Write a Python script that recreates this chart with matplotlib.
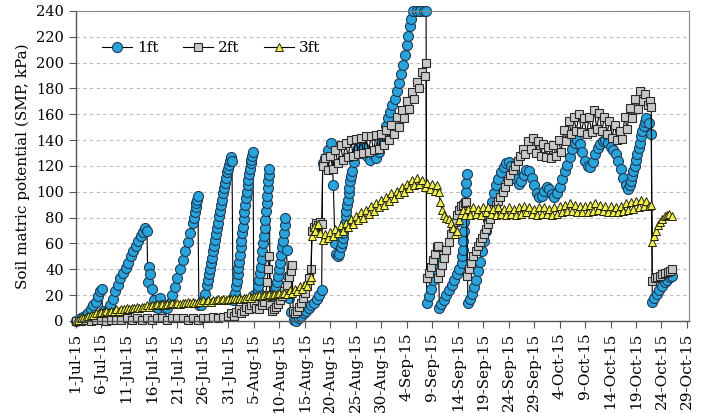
import matplotlib
matplotlib.use("Agg")
import matplotlib.pyplot as plt
import pandas as pd

plt.rcParams["font.family"] = ["DejaVu Serif"]

# readings as (days since 1-Jul-15, SMP kPa)
ft1_points = [
    (0, 0), (0.5, 1), (1, 2), (1.5, 3), (2, 5), (2.5, 6), (3, 9), (3.5, 12), (4, 15), (4.4, 19), (4.8, 23), (5.1, 25),
    (5.3, 8), (5.8, 6), (6.3, 8), (6.8, 12), (7.3, 17), (7.8, 23), (8.3, 28), (8.8, 33), (9.3, 37), (9.8, 41),
    (10.3, 45), (10.8, 50), (11.3, 54), (11.8, 58), (12.3, 62), (12.8, 66), (13.3, 69), (13.7, 72), (14.0, 70),
    (14.2, 30), (14.4, 42), (14.7, 36), (15.0, 25), (15.3, 16), (15.7, 11), (16.1, 10), (16.6, 18), (17.0, 12),
    (17.5, 10), (18.0, 10), (18.5, 14), (19.0, 20), (19.5, 26), (20.0, 33), (20.5, 40), (21.0, 47), (21.5, 54),
    (22.0, 61), (22.5, 68), (23.0, 76), (23.2, 80), (23.4, 84), (23.55, 88), (23.7, 91), (23.85, 94), (24.0, 97),
    (24.2, 12), (24.6, 12), (25.0, 16), (25.4, 21), (25.8, 28), (26.0, 32), (26.2, 36), (26.4, 40), (26.6, 45),
    (26.8, 49), (27.0, 54), (27.2, 58), (27.4, 63), (27.6, 67), (27.8, 72), (28.0, 76), (28.2, 81), (28.4, 85),
    (28.6, 90), (28.8, 94), (29.0, 99), (29.2, 103), (29.4, 107), (29.6, 111), (29.8, 115), (30.0, 118),
    (30.2, 121), (30.35, 124), (30.5, 127), (30.7, 124),
    (30.9, 16), (31.1, 19), (31.3, 22), (31.5, 27), (31.65, 31), (31.8, 36), (31.95, 41), (32.1, 46), (32.25, 51),
    (32.4, 57), (32.55, 62), (32.7, 68), (32.85, 73), (33.0, 79), (33.15, 84), (33.3, 90), (33.45, 95), (33.6, 100),
    (33.75, 105), (33.9, 109), (34.05, 114), (34.2, 118), (34.35, 122), (34.5, 125), (34.65, 128), (34.8, 131),
    (35.0, 20), (35.3, 15), (35.6, 19), (35.75, 23), (35.9, 27), (36.05, 32), (36.2, 37), (36.35, 42), (36.5, 48),
    (36.65, 54), (36.8, 60), (36.95, 66), (37.1, 72), (37.25, 78), (37.4, 85), (37.5, 91), (37.6, 97), (37.7, 103),
    (37.8, 108), (37.9, 113), (38.0, 118),
    (38.2, 12), (38.6, 14), (39.0, 19), (39.2, 22), (39.4, 26), (39.6, 30), (39.8, 35), (40.0, 40), (40.2, 45),
    (40.4, 51), (40.6, 57), (40.75, 62), (40.9, 68), (41.05, 74), (41.2, 80),
    (41.4, 55), (41.6, 35), (41.9, 18), (42.3, 7), (42.8, 1), (43.3, 0), (43.8, 2), (44.3, 4), (44.8, 6), (45.3, 8),
    (45.8, 10), (46.3, 12), (46.8, 14), (47.3, 17), (47.8, 20), (48.3, 24),
    (48.5, 122), (49.0, 126), (49.6, 132), (50.2, 138), (50.6, 105), (50.9, 60), (51.2, 52), (51.5, 50), (51.8, 52),
    (52.1, 57), (52.25, 60), (52.4, 64), (52.55, 68), (52.7, 72), (52.85, 76), (53.0, 81), (53.15, 85), (53.3, 90),
    (53.45, 94), (53.6, 99), (53.75, 103), (53.9, 108), (54.05, 112), (54.2, 116), (54.6, 123),
    (55.0, 129), (55.5, 134), (56.0, 138), (56.6, 134), (57.2, 128), (57.8, 125), (58.4, 129), (59.0, 126),
    (59.5, 131), (60.0, 137), (60.5, 144), (61.0, 151), (61.4, 157), (61.8, 162), (62.2, 167), (62.6, 172),
    (63.0, 178), (63.4, 184), (63.8, 191), (64.2, 198), (64.6, 206), (65.0, 214), (65.3, 221), (65.6, 228),
    (65.9, 234), (66.3, 240), (67.0, 240), (67.7, 240), (68.3, 240), (68.8, 240),
    (68.9, 14), (69.3, 19), (69.7, 25), (70.1, 32), (70.5, 40), (70.9, 49), (71.2, 57),
    (71.4, 10), (71.8, 13), (72.3, 16), (72.8, 20), (73.3, 24), (73.8, 28), (74.3, 32), (74.8, 36), (75.3, 40),
    (75.8, 45), (75.9, 50), (76.0, 55), (76.1, 62), (76.2, 70), (76.3, 77), (76.4, 85), (76.5, 92), (76.6, 100),
    (76.7, 107), (76.8, 114),
    (77.0, 14), (77.4, 17), (77.8, 21), (78.2, 26), (78.6, 32), (79.0, 39), (79.4, 46), (79.8, 54), (80.2, 62),
    (80.6, 70), (81.0, 78), (81.4, 85), (81.8, 92), (82.2, 99), (82.6, 105), (83.0, 110), (83.5, 115), (84.0, 119),
    (84.5, 122), (85.0, 123), (85.5, 120), (86.0, 116), (86.5, 110), (87.0, 106), (87.5, 108), (88.0, 113),
    (88.5, 117), (89.0, 116), (89.5, 111), (90.0, 105), (90.5, 99), (91.0, 96), (91.5, 97), (92.0, 101),
    (92.5, 104), (93.0, 102), (93.5, 98), (94.0, 96), (94.5, 99), (95.0, 104), (95.5, 110), (96.0, 116),
    (96.5, 121), (97.0, 127), (97.5, 133), (98.0, 138), (98.5, 140), (99.0, 137), (99.5, 131), (100.0, 124),
    (100.5, 120), (101.0, 119), (101.5, 123), (102.0, 129), (102.5, 134), (103.0, 137), (103.5, 139), (104.0, 140),
    (104.5, 138), (105.0, 135), (105.5, 132), (106.0, 129), (106.5, 124), (107.0, 118), (107.5, 111), (108.0, 105),
    (108.5, 102), (108.75, 105), (109.0, 108), (109.25, 112), (109.5, 116), (109.75, 120), (110.0, 125),
    (110.25, 129), (110.5, 134), (110.75, 138), (111.0, 143), (111.25, 147), (111.5, 151), (111.75, 154),
    (112.0, 157), (112.5, 153), (113.0, 145),
    (113.2, 15), (113.6, 18), (114.1, 21), (114.6, 24), (115.1, 27), (115.6, 30), (116.1, 32), (116.6, 34), (117.0, 35),
]

ft2_points = [
    (0, 0), (1, 0), (2, 1), (3, 0), (4, 1), (5, 1), (6, 0), (7, 1), (8, 1), (9, 1), (10, 2), (11, 1), (12, 2),
    (13, 1), (14, 2), (15, 1), (16, 2), (17, 2), (18, 1), (19, 2), (20, 2), (21, 2), (22, 1), (23, 2), (24, 1),
    (25, 2), (26, 2), (27, 3), (28, 2), (29, 3), (30, 4), (30.5, 6), (31, 4), (31.5, 7), (32, 9), (32.5, 6),
    (33, 8), (33.5, 11), (34, 9), (34.5, 12), (35, 14), (35.5, 10), (36, 9), (36.5, 12), (37, 15), (37.3, 20),
    (37.6, 30), (37.8, 40), (38.0, 50), (38.2, 12), (38.6, 8), (39.0, 9), (39.4, 11), (39.8, 13), (40.2, 16),
    (40.6, 19), (41.0, 23), (41.4, 28), (41.8, 34), (42.2, 39), (42.5, 43), (42.7, 8), (43.1, 6), (43.5, 8),
    (43.9, 11), (44.3, 14), (44.7, 18), (45.1, 22), (45.5, 27), (45.9, 33), (46.2, 40),
    (46.4, 70), (46.8, 73), (47.2, 76), (47.6, 74), (48.0, 77), (48.3, 75),
    (48.5, 120), (49, 126), (49.5, 117), (50, 128), (50.5, 118), (51, 132), (51.5, 122), (52, 136), (52.5, 125),
    (53, 138), (53.5, 127), (54, 140), (54.5, 128), (55, 141), (55.5, 129), (56, 142), (56.5, 130), (57, 143),
    (57.5, 131), (58, 143), (58.5, 132), (59, 144), (59.5, 133), (60, 145), (60.5, 136), (61, 148), (61.5, 140),
    (62, 152), (62.5, 145), (63, 158), (63.5, 150), (64, 163), (64.5, 157), (65, 170), (65.5, 164), (66, 177),
    (66.5, 172), (67, 185), (67.5, 180), (68, 193), (68.5, 190), (68.8, 200),
    (68.9, 33), (69.3, 37), (69.7, 42), (70.1, 47), (70.5, 52), (70.9, 57), (71.1, 58),
    (71.2, 33), (71.6, 38), (72.0, 43), (72.4, 49), (72.8, 55), (73.2, 61), (73.6, 67), (74.0, 72), (74.4, 77),
    (74.8, 82), (75.2, 86), (75.6, 89), (76.0, 90), (76.4, 91), (76.7, 92),
    (76.9, 35), (77.3, 40), (77.7, 45), (78.1, 50), (78.5, 54), (78.9, 58), (79.3, 61), (79.7, 64), (80.1, 67),
    (80.5, 71), (80.9, 75), (81.3, 79), (81.7, 83), (82.1, 87), (82.5, 90), (82.9, 93), (83.3, 96), (83.8, 100),
    (84.3, 104), (84.8, 108), (85.3, 113), (85.8, 117), (86.3, 120), (86.8, 124), (87.3, 128), (87.8, 133),
    (88.3, 129), (88.8, 139), (89.3, 133), (89.8, 142), (90.3, 130), (90.8, 139), (91.3, 128), (91.8, 137),
    (92.3, 127), (92.8, 135), (93.3, 126), (93.8, 136), (94.3, 128), (94.8, 140), (95.3, 131), (95.8, 148),
    (96.3, 139), (96.8, 155), (97.3, 145), (97.8, 158), (98.3, 147), (98.8, 160), (99.3, 146), (99.8, 157),
    (100.3, 145), (100.8, 158), (101.3, 146), (101.8, 163), (102.3, 149), (102.8, 161), (103.3, 147), (103.8, 158),
    (104.3, 145), (104.8, 155), (105.3, 142), (105.8, 152), (106.3, 140), (106.8, 147), (107.3, 141), (107.8, 158),
    (108.3, 149), (108.8, 165), (109.3, 157), (109.8, 172), (110.3, 164), (110.8, 178), (111.3, 170), (111.8, 176),
    (112.3, 167), (112.8, 170), (113.0, 166),
    (113.2, 31), (113.7, 33), (114.2, 34), (114.7, 35), (115.2, 36), (115.7, 37), (116.2, 38), (116.7, 39), (117.0, 40),
]

ft3_points = [
    (0, 0), (0.5, 1), (1, 2), (1.5, 2), (2, 3), (2.5, 4), (3, 5), (3.5, 5), (4, 6), (4.5, 6), (5, 7), (5.5, 7),
    (6, 8), (6.5, 7), (7, 8), (7.5, 8), (8, 9), (8.5, 8), (9, 9), (9.5, 9), (10, 10), (10.5, 9), (11, 10),
    (11.5, 10), (12, 11), (12.5, 10), (13, 11), (13.5, 11), (14, 12), (14.5, 11), (15, 12), (15.5, 12), (16, 13),
    (16.5, 12), (17, 13), (17.5, 12), (18, 13), (18.5, 13), (19, 14), (19.5, 13), (20, 14), (20.5, 13), (21, 14),
    (21.5, 14), (22, 15), (22.5, 14), (23, 15), (23.5, 14), (24, 15), (24.5, 15), (25, 16), (25.5, 15), (26, 16),
    (26.5, 15), (27, 16), (27.5, 16), (28, 17), (28.5, 16), (29, 17), (29.5, 16), (30, 17), (30.5, 17), (31, 18),
    (31.5, 17), (32, 18), (32.5, 17), (33, 18), (33.5, 18), (34, 19), (34.5, 18), (35, 19), (35.5, 19), (36, 20),
    (36.5, 19), (37, 20), (37.5, 20), (38, 21), (38.5, 20), (39, 21), (39.5, 21), (40, 22), (40.5, 21), (41, 22),
    (41.5, 21), (42, 24), (42.5, 22), (43, 25), (43.5, 23), (44, 27), (44.5, 25), (45, 29), (45.5, 27), (46, 32),
    (46.2, 34),
    (46.4, 66), (46.7, 73), (47, 70), (47.5, 75), (48, 68), (48.5, 63), (49, 67), (49.5, 64), (50, 69), (50.5, 66),
    (51, 71), (51.5, 68), (52, 74), (52.5, 70), (53, 76), (53.5, 73), (54, 79), (54.5, 75), (55, 81), (55.5, 78),
    (56, 84), (56.5, 80), (57, 86), (57.5, 83), (58, 89), (58.5, 85), (59, 91), (59.5, 88), (60, 94), (60.5, 90),
    (61, 96), (61.5, 93), (62, 99), (62.5, 95), (63, 101), (63.5, 98), (64, 104), (64.5, 100), (65, 106),
    (65.5, 103), (66, 109), (66.5, 105), (67, 111), (67.5, 106), (68, 109), (68.5, 104), (69, 107), (69.5, 102),
    (70, 106), (70.5, 101), (71, 105), (71.3, 100), (71.6, 92), (71.9, 86), (72.3, 82), (72.7, 80), (73.2, 79),
    (73.6, 76), (74, 72), (74.4, 67), (74.8, 70), (75.2, 78), (75.6, 83), (76, 86), (76.5, 82), (77, 87),
    (77.5, 82), (78, 88), (78.5, 83), (79, 87), (79.5, 82), (80, 88), (80.5, 84), (81, 88), (81.5, 83), (82, 87),
    (82.5, 82), (83, 88), (83.5, 83), (84, 87), (84.5, 82), (85, 88), (85.5, 83), (86, 87), (86.5, 82), (87, 88),
    (87.5, 83), (88, 89), (88.5, 84), (89, 88), (89.5, 83), (90, 87), (90.5, 82), (91, 88), (91.5, 83), (92, 88),
    (92.5, 83), (93, 87), (93.5, 82), (94, 88), (94.5, 83), (95, 89), (95.5, 84), (96, 90), (96.5, 85), (97, 91),
    (97.5, 85), (98, 90), (98.5, 84), (99, 89), (99.5, 84), (100, 89), (100.5, 84), (101, 90), (101.5, 85),
    (102, 91), (102.5, 86), (103, 90), (103.5, 85), (104, 89), (104.5, 84), (105, 89), (105.5, 84), (106, 88),
    (106.5, 84), (107, 89), (107.5, 85), (108, 91), (108.5, 86), (109, 92), (109.5, 87), (110, 93), (110.5, 88),
    (111, 94), (111.5, 89), (112, 93), (112.5, 89), (113, 90),
    (113.2, 61), (113.6, 66), (114, 70), (114.4, 74), (114.8, 77), (115.2, 79), (115.6, 81), (116, 82),
    (116.5, 83), (117, 81),
]

series_names = ["1ft", "2ft", "3ft"]
start = pd.Timestamp("2015-07-01")
tick_dates = pd.date_range("2015-07-01", "2015-10-29", freq="5D")


def to_xy(points):
    days = [p[0] for p in points]
    vals = [p[1] for p in points]
    return start + pd.to_timedelta(days, unit="D"), vals


fig = plt.figure(figsize=(7.2, 4.13), dpi=100)
ax = fig.add_axes([0.105, 0.2228, 0.852, 0.7506])

styles = [
    dict(marker="o", ms=7.2, mfc="#2aa3db", mec="#1b3a58", mew=0.8),
    dict(marker="s", ms=5.4, mfc="#c8c8c8", mec="#2a2a2a", mew=0.8),
    dict(marker="^", ms=6.0, mfc="#f0f050", mec="#262608", mew=0.7),
]
for pts, name, st in zip([ft1_points, ft2_points, ft3_points], series_names, styles):
    x, y = to_xy(pts)
    ax.plot(x, y, color="black", lw=0.8, label=name, clip_on=False, **st)

ax.set_ylim(0, 240)
ax.set_yticks(range(0, 241, 20))
ax.set_xlim(start, pd.Timestamp("2015-10-29 10:00"))
ax.set_xticks(tick_dates)
ax.set_xticklabels([f"{d.day}-{d.strftime('%b-%y')}" for d in tick_dates], rotation=90)
ax.tick_params(labelsize=10.5, length=5, color="#555555", direction="out")
ax.tick_params(axis="x", labelsize=11)

ax.grid(axis="y", linestyle=(0, (3, 3)), color="#bbbbbb", lw=0.8)
ax.set_axisbelow(True)
for side in ["top", "right"]:
    ax.spines[side].set_color("#888888")
for side in ["left", "bottom"]:
    ax.spines[side].set_color("#555555")
    ax.spines[side].set_linewidth(1.0)

ax.set_ylabel("Soil matric potential (SMP, kPa)", fontsize=11)
ax.legend(loc="center left", bbox_to_anchor=(0.02, 0.88), ncol=3, frameon=False,
          handlelength=2.0, handletextpad=0.3, columnspacing=1.6, fontsize=11)

fig.savefig("out.png", dpi=100)
